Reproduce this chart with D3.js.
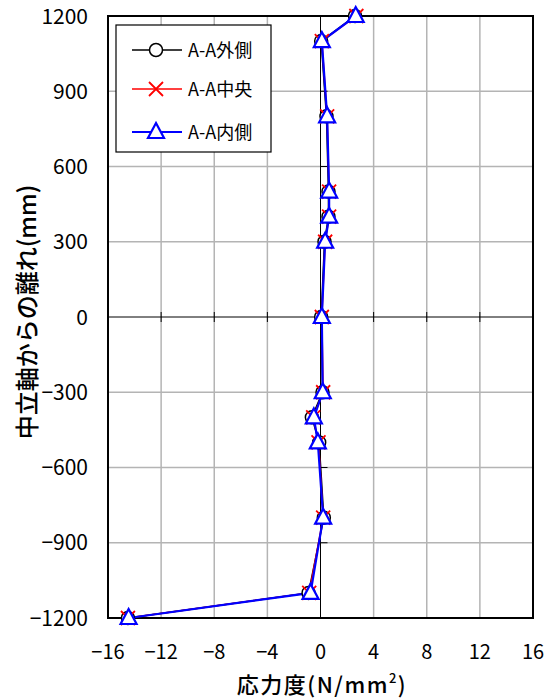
<!DOCTYPE html>
<html><head><meta charset="utf-8">
<script src="https://cdn.jsdelivr.net/npm/d3@7"></script>
<style>body{margin:0;background:#fff}svg{display:block}text{font-family:"Noto Sans CJK JP","Noto Sans",sans-serif}.num{font-family:"Liberation Sans Narrow","Noto Sans CJK JP",sans-serif}</style>
</head><body><svg id="c" width="549" height="698"></svg>
<script>
const depth = [1200,1100,800,500,400,300,0,-300,-400,-500,-800,-1100,-1200];
const outer = [2.6,0.05,0.45,0.6,0.6,0.3,0.05,0.15,-0.65,-0.1,0.25,-0.9,-14.5];
const center = [2.7,0.1,0.5,0.65,0.65,0.35,0.1,0.2,-0.55,-0.15,0.2,-0.85,-14.5];
const inner = [2.65,0.1,0.5,0.65,0.65,0.35,0.1,0.17,-0.5,-0.2,0.2,-0.75,-14.45];
const xTicks = [-16,-12,-8,-4,0,4,8,12,16];
const yTicks = [-1200,-900,-600,-300,0,300,600,900,1200];
const seriesNames = ["A-A外側","A-A中央","A-A内側"];

const svg = d3.select("#c");
const L=108,R=533,T=16,B=618;
const x = d3.scaleLinear().domain([-16,16]).range([L,R]);
const y = d3.scaleLinear().domain([-1200,1200]).range([B,T]);

// grid
svg.append("g").selectAll("line").data(xTicks.filter(d=>d!==0&&Math.abs(d)!==16)).join("line")
  .attr("x1",d=>x(d)).attr("x2",d=>x(d)).attr("y1",T).attr("y2",B).attr("stroke","#b4b4b4").attr("stroke-width",1.5);
svg.append("g").selectAll("line").data(yTicks.filter(d=>d!==0&&Math.abs(d)!==1200)).join("line")
  .attr("y1",d=>y(d)).attr("y2",d=>y(d)).attr("x1",L).attr("x2",R).attr("stroke","#b4b4b4").attr("stroke-width",1.5);

// zero axes with ticks
svg.append("line").attr("x1",x(0)).attr("x2",x(0)).attr("y1",T).attr("y2",B).attr("stroke","#000");
svg.append("line").attr("y1",y(0)).attr("y2",y(0)).attr("x1",L).attr("x2",R).attr("stroke","#000");
svg.append("g").selectAll("line").data(yTicks).join("line")
  .attr("x1",x(0)).attr("x2",x(0)+7).attr("y1",d=>y(d)).attr("y2",d=>y(d)).attr("stroke","#000");
svg.append("g").selectAll("line").data(xTicks).join("line")
  .attr("x1",d=>x(d)).attr("x2",d=>x(d)).attr("y1",y(0)-5).attr("y2",y(0)+5).attr("stroke","#000");

// frame
svg.append("rect").attr("x",L).attr("y",T).attr("width",R-L).attr("height",B-T)
  .attr("fill","none").attr("stroke","#000").attr("stroke-width",2);

// tick labels
svg.append("g").selectAll("text").data(yTicks).join("text").attr("class","num")
  .attr("x",88).attr("y",d=>y(d)+7.5).attr("text-anchor","end").attr("font-size",21).text(d=>d<0?"−"+Math.abs(d):d);
svg.append("g").selectAll("text").data(xTicks).join("text").attr("class","num")
  .attr("x",d=>x(d)).attr("y",659).attr("text-anchor","middle").attr("font-size",20).text(d=>d<0?"−"+Math.abs(d):d);

// axis titles
const xt = svg.append("text").attr("x",322).attr("y",693).attr("text-anchor","middle").attr("font-size",22).attr("font-weight","500").attr("letter-spacing",1.5);
xt.append("tspan").text("応力度(N/mm");
xt.append("tspan").attr("font-size",13).attr("dy",-10).text("2");
xt.append("tspan").attr("dy",10).text(")");
svg.append("text").attr("transform","translate(36,312) rotate(-90)").attr("text-anchor","middle")
  .attr("font-size",24).attr("font-weight","500").text("中立軸からの離れ(mm)");

const line = d3.line().x(d=>x(d[0])).y(d=>y(d[1]));
const series = [
  {v:outer,color:"#000",w:1.5,m:"circle"},
  {v:center,color:"#ff0000",w:1.5,m:"x"},
  {v:inner,color:"#0000ff",w:2.2,m:"tri"}
];
function marker(g,type,color){
  if(type==="circle") g.append("circle").attr("r",6.5).attr("fill","#fff").attr("stroke",color).attr("stroke-width",1.5);
  else if(type==="x") g.append("path").attr("d","M-7,-7L7,7M-7,7L7,-7").attr("stroke",color).attr("stroke-width",1.8);
  else g.append("path").attr("d","M0,-9L8,6L-8,6Z").attr("fill","#fff").attr("stroke",color).attr("stroke-width",2.2);
}
series.forEach(s=>{
  const pts = depth.map((d,i)=>[s.v[i],d]);
  svg.append("path").datum(pts).attr("d",line).attr("fill","none").attr("stroke",s.color).attr("stroke-width",s.w);
});
series.forEach(s=>{
  depth.forEach((d,i)=>{
    const g = svg.append("g").attr("transform",`translate(${x(s.v[i])},${y(d)})`);
    marker(g,s.m,s.color);
  });
});

// legend
const lg = svg.append("g");
lg.append("rect").attr("x",116).attr("y",25).attr("width",155).attr("height",127).attr("fill","#fff").attr("stroke","#000").attr("stroke-width",1.2);
const ly=[50,89,132];
series.forEach((s,i)=>{
  lg.append("line").attr("x1",132).attr("x2",182).attr("y1",ly[i]).attr("y2",ly[i]).attr("stroke",s.color).attr("stroke-width",s.w);
  marker(lg.append("g").attr("transform",`translate(156,${ly[i]})`),s.m,s.color);
  lg.append("text").attr("x",188).attr("y",ly[i]+7).attr("font-size",18).text(seriesNames[i]);
});
</script></body></html>
